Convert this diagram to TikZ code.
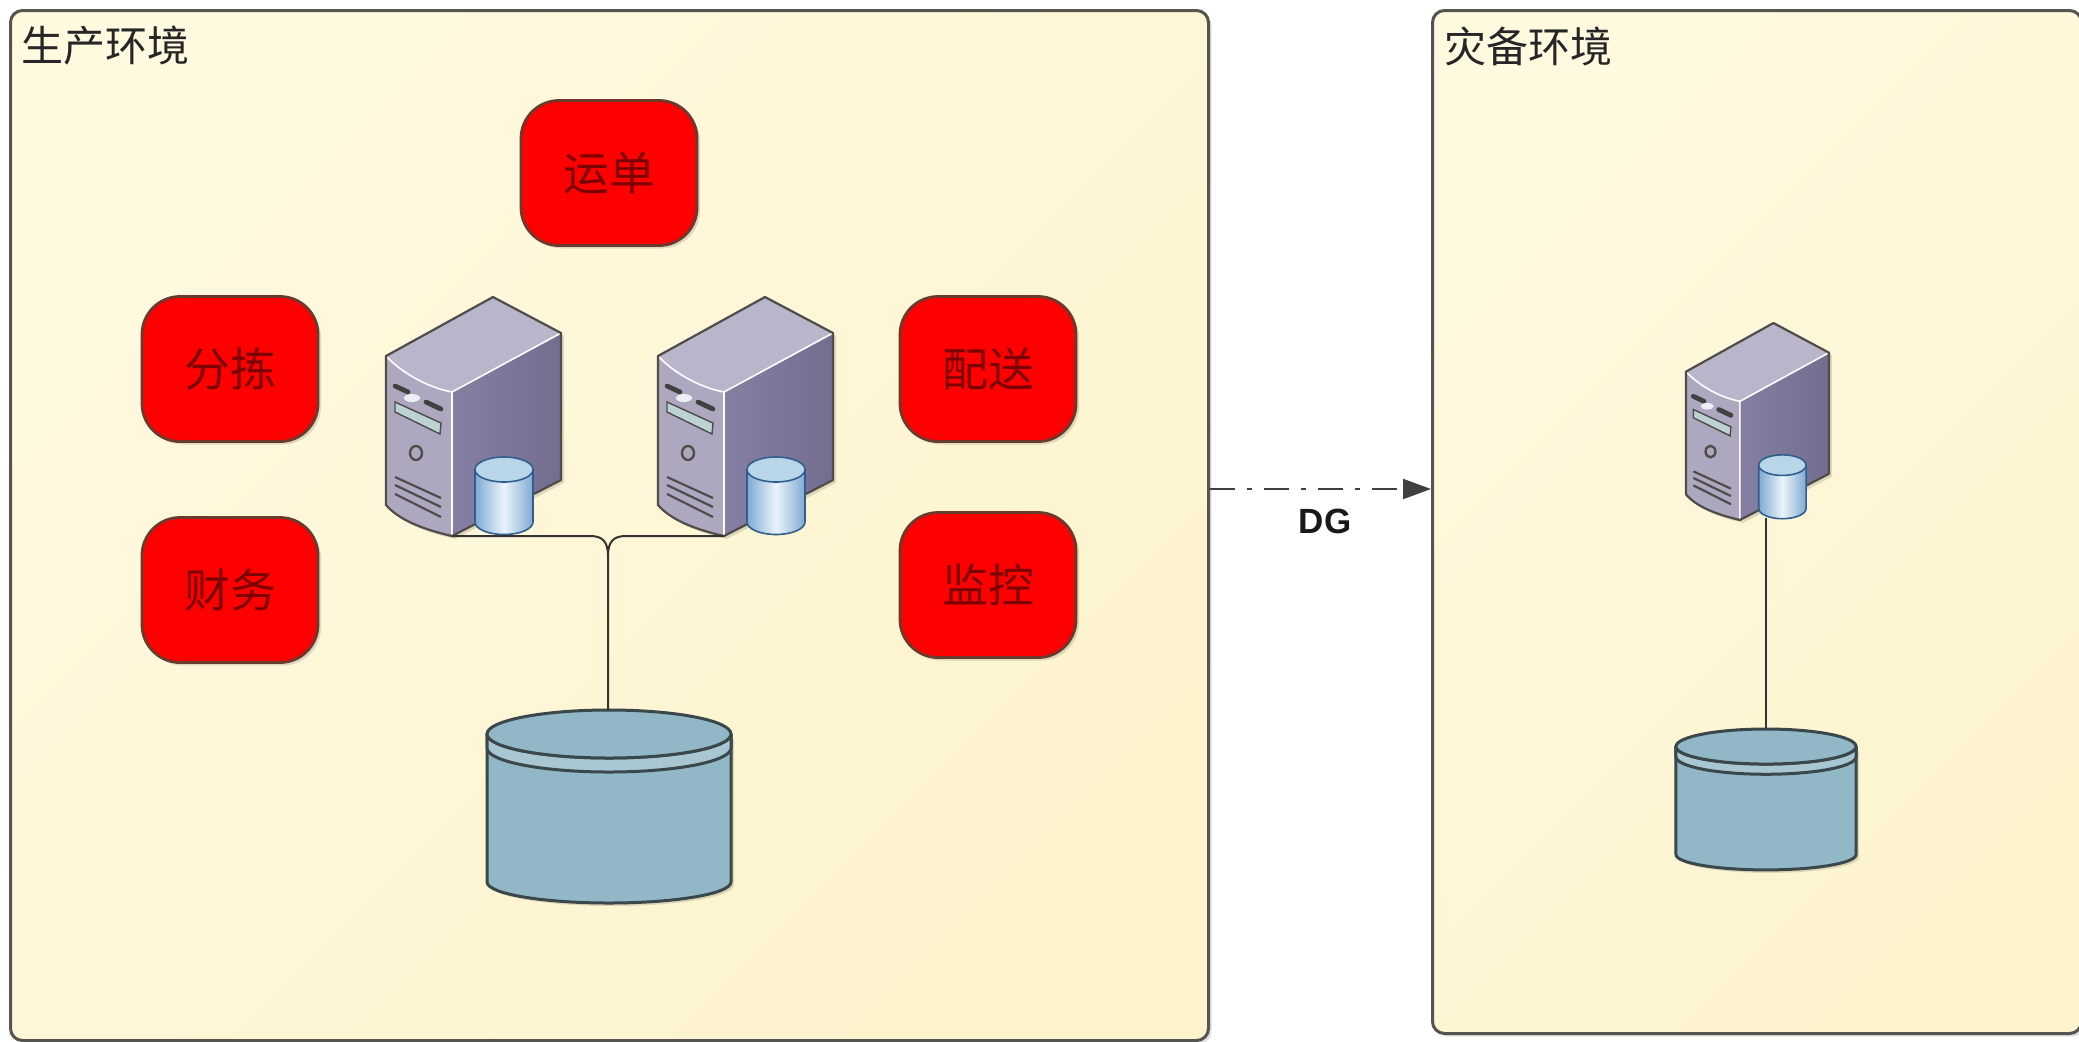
\documentclass[tikz,border=0pt]{standalone}
\usepackage{fontspec}
\setmainfont{Liberation Sans}
\newfontfamily\cjk{Noto Sans CJK SC}
\usetikzlibrary{shadows,arrows.meta,calc}
\definecolor{panelA}{HTML}{FFF9E0}
\definecolor{panelB}{HTML}{FDF3CD}
\definecolor{edgeC}{HTML}{55544E}
\definecolor{redEdge}{HTML}{6A3A2C}
\definecolor{redText}{HTML}{7C0000}
\definecolor{dbFill}{HTML}{92B8C7}
\definecolor{dbBand}{HTML}{A9C7D3}
\definecolor{dbEdge}{HTML}{3A474B}
\definecolor{srvFront}{HTML}{ADA8C0}
\definecolor{srvTop}{HTML}{B9B5CB}
\definecolor{srvSideA}{HTML}{857FA3}
\definecolor{srvSideB}{HTML}{736D90}
\definecolor{srvEdge}{HTML}{4F4C4A}
\definecolor{cylEdge}{HTML}{2F5F8C}
\definecolor{cylSide}{HTML}{7FAAD2}
\definecolor{cylMid}{HTML}{EAF4FB}
\definecolor{cylTop}{HTML}{B9D6E8}
\definecolor{slotC}{HTML}{BCD3D4}
\tikzset{
  softshadow/.style={drop shadow={opacity=.12,shadow xshift=1.5pt,shadow yshift=-1.5pt,fill=black}},
  panel/.style={draw=edgeC,line width=1.5pt,rounded corners=6pt,anchor=north west,inner sep=0pt,
    left color=panelA,right color=panelB,shading angle=45,softshadow},
  panellabel/.style={anchor=west,font=\cjk\fontsize{21pt}{24pt}\selectfont,text=black!85,inner sep=0pt},
  appbox/.style={draw=redEdge,line width=1.4pt,fill=red,rounded corners=19pt,minimum width=88pt,minimum height=72.5pt,
    inner sep=0pt,font=\cjk\fontsize{23pt}{26pt}\selectfont,text=redText,softshadow},
  link/.style={draw=black!80,line width=1pt},
  dglink/.style={draw=black!75,line width=1pt,dash pattern=on 12.5pt off 6pt on 2.5pt off 6pt,-{Triangle[length=14pt,width=10pt,fill=black!75]}},
  dglabel/.style={font=\bfseries\fontsize{17.5pt}{20pt}\selectfont,text=black!90,inner sep=0pt},
  server/.pic={
    \path[fill=srvFront,softshadow] (0,59)--(107,0)--(175,36)--(175,183)--(66,239)..controls(35,232)and(12,222)..(0,208)--cycle;
    \fill[srvTop] (0,59)--(107,0)--(175,36)--(66,95)..controls(40,90)and(15,75)..(0,59)--cycle;
    \path[left color=srvSideA,right color=srvSideB] (66,95)--(175,36)--(175,183)--(66,239)--cycle;
    \fill[srvFront] (0,59)..controls(15,75)and(40,90)..(66,95)--(66,239)..controls(35,232)and(12,222)..(0,208)--cycle;
    \draw[white,line width=.8pt] (0,59)..controls(15,75)and(40,90)..(66,95)--(175,36) (66,95)--(66,239);
    \draw[srvEdge,line width=1.1pt,line join=round] (0,59)--(107,0)--(175,36)--(175,183)--(66,239)..controls(35,232)and(12,222)..(0,208)--cycle;
    \draw[srvEdge!85!black,line width=2.4pt,line cap=round] (9,89)--(22,95) (40,105)--(55,112);
    \fill[white!80!srvFront] (26,101) ellipse [x radius=8,y radius=4];
    \path[fill=slotC,draw=srvEdge,line width=.7pt] (9,105)--(55,126)--(54,137)--(9,115)--cycle;
    \draw[srvEdge,line width=1.2pt] (30,156) circle [x radius=6,y radius=7];
    \draw[srvEdge,line width=1.1pt] (9,180)--(55,201) (9,188)--(55,210) (9,197)--(55,220);
    \path[left color=cylSide,right color=cylSide,middle color=cylMid,draw=cylEdge,line width=.8pt,line join=round]
      (89,172.5)--(89,225) arc[start angle=180,end angle=0,x radius=29,y radius=12.5]--(147,172.5)--cycle;
    \path[fill=cylTop,draw=cylEdge,line width=.8pt] (118,172.5) ellipse [x radius=29,y radius=12.5];
    \coordinate (-foot) at (66,239);
    \coordinate (-tap) at (98,237);
  },
  database/.pic={
    \path[fill=dbFill,draw=dbEdge,line width=1.5pt,line join=round,softshadow]
      (-122,24)--(-122,172) arc[start angle=180,end angle=0,x radius=122,y radius=21]--(122,24) arc[start angle=0,end angle=180,x radius=122,y radius=24]--cycle;
    \path[fill=dbBand,draw=dbEdge,line width=1.5pt,line join=round] (-122,24)--(-122,38) arc[start angle=180,end angle=0,x radius=122,y radius=24]--(122,24) arc[start angle=0,end angle=180,x radius=122,y radius=24]--cycle;
    \path[fill=dbFill,draw=dbEdge,line width=1.5pt] (0,24) ellipse [x radius=122,y radius=24];
    \coordinate (-top) at (0,0);
  }
}
\begin{document}
\begin{tikzpicture}[x=.5pt,y=-.5pt]
\useasboundingbox (0,0) rectangle (2079,1041);
\fill[white] (0,0) rectangle (2079,1041);
\node[panel,minimum width=599pt,minimum height=515pt] (prod) at (9,9) {};
\node[panel,minimum width=324.5pt,minimum height=511.5pt] (dr) at (1431,9) {};
\node[panellabel] (prodlabel) at (21,46) {生产环境};
\node[panellabel] (drlabel) at (1444,46) {灾备环境};
\node[appbox] (waybill) at (609,173) {运单};
\node[appbox] (sorting) at (230,369) {分拣};
\node[appbox] (finance) at (230,590) {财务};
\node[appbox] (delivery) at (988,369) {配送};
\node[appbox] (monitor) at (988,585) {监控};
\pic (s1) at (386,297) {server};
\pic (s2) at (658,297) {server};
\pic[xscale=.817,yscale=.824] (s3) at (1686,323) {server};
\coordinate (jl) at (590,536);
\coordinate (jr) at (626,536);
\coordinate (jn) at (608,556);
\pic (db1) at (609,710) {database};
\pic[xscale=.738,yscale=.73] (db2) at (1766,729) {database};
\draw[link] (s1-foot)--(jl)..controls(602,536)and(608,541)..(jn)--(jn|-db1-top);
\draw[link] (s2-foot)--(jr)..controls(614,536)and(608,541)..(jn);
\draw[link] (s3-tap)--(s3-tap|-db2-top);
\coordinate (dgfrom) at (prod.east|-0,489);
\coordinate (dgto) at (dr.west|-0,489);
\draw[dglink] (dgfrom)--(dgto);
\node[dglabel] (dg) at (1325,521) {DG};
\end{tikzpicture}
\end{document}
